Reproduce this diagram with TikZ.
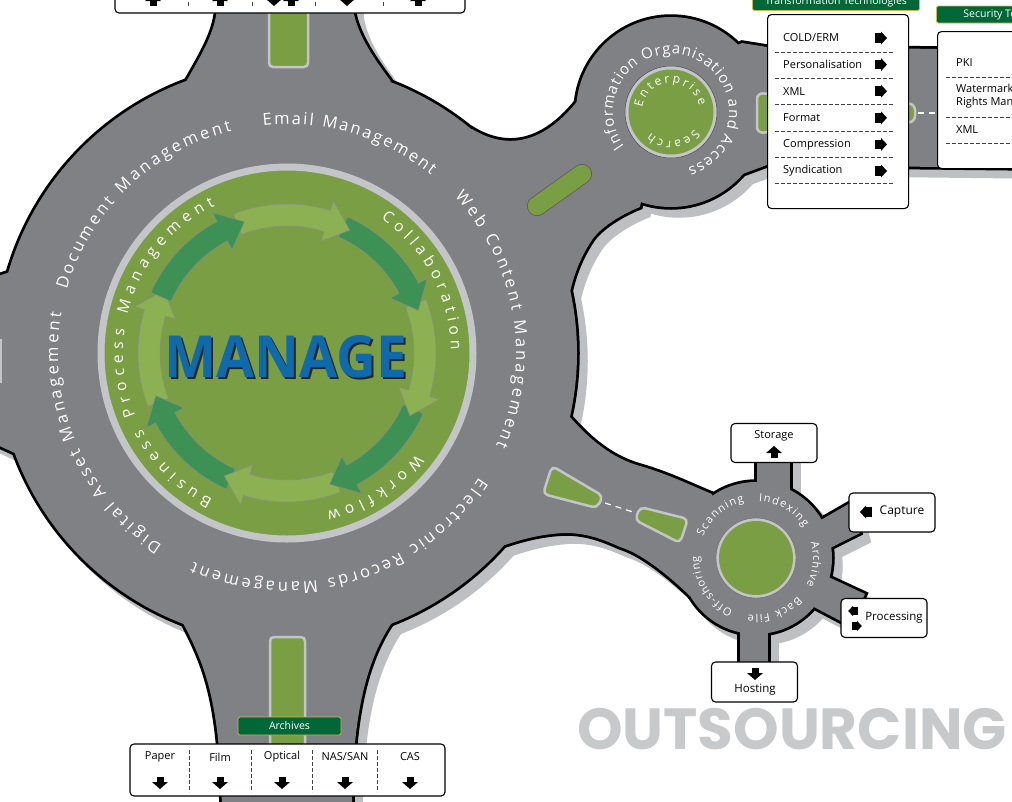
\documentclass[tikz,border=0pt]{standalone}
\usepackage{fontspec}
\setmainfont{Open Sans}
\newfontfamily\bannerfont{Poppins}
\usetikzlibrary{decorations.text}

\definecolor{road}{RGB}{128,129,133}
\definecolor{roadshadow}{RGB}{190,191,194}
\definecolor{rim}{RGB}{196,197,200}
\definecolor{grass}{RGB}{122,158,68}
\definecolor{arrowdark}{RGB}{62,145,84}
\definecolor{arrowlight}{RGB}{140,177,82}
\definecolor{tagfill}{RGB}{0,104,56}
\definecolor{tagline}{RGB}{205,185,70}
\definecolor{manageblue}{RGB}{14,106,172}
\definecolor{outsource}{RGB}{200,201,203}

\tikzset{
    outbox/.style={draw, line width=1.1pt, fill=white, rounded corners=4pt, inner sep=0pt},
    tag/.style={draw=tagline, line width=0.9pt, fill=tagfill, text=white, rounded corners=1.5pt, inner sep=0pt, font=\fontsize{10.5}{12}\selectfont},
    boxtext/.style={font=\fontsize{11}{13}\selectfont, inner sep=0pt},
    island/.style={fill=grass, draw=rim, line width=2.5pt},
    sep/.style={dash pattern=on 3.5pt off 2.5pt, line width=0.6pt, black!75},
    lanemark/.style={white, line width=1.2pt, dash pattern=on 6pt off 5pt},
    fatarrow/.pic={\fill (-5,-3.5) rectangle (0.5,3.5); \fill (0,-8) -- (7,0) -- (0,8) -- cycle;},
    slimarrow/.pic={\fill (-6,-4.8) rectangle (0.5,4.8); \fill (0,-6.5) -- (6,0) -- (0,6.5) -- cycle;},
}

% white lettering set along a clockwise arc
% #1 centre, #2 radius, #3 start angle, #4 end angle, #5 size, #6 text
\newcommand{\ringtext}[6]{%
    \path[decorate, decoration={text along path, text align={fit to path}, text color=white,
        text={|\fontsize{#5}{#5}\selectfont|#6}}]
        ([shift={(#3:#2)}]#1) arc[start angle=#3, end angle=#4, radius=#2];}

% all tarmac pieces, drawn with the style given
\newcommand{\roadnet}[1]{%
    \path[#1] (C0) circle[radius=290];
    \path[#1] (C1) circle[radius=95];
    \path[#1] (C2) circle[radius=76];
    % north and south arms
    \path[#1] (180,-110) -- (187,-80) .. controls (203,-52) and (215,-32) .. (217,-8) -- (217,20) -- (353,20) -- (353,-8) .. controls (356,-32) and (372,-56) .. (390,-80) -- (400,-110) -- cycle;
    \path[#1] (175,-600) -- (182,-621) .. controls (205,-665) and (220,-700) .. (222,-810) -- (352,-810) .. controls (352,-700) and (372,-652) .. (393,-621) -- (400,-600) -- cycle;
    % west arm
    \path[#1] (-20,-282) -- (10,-272) -- (30,-300) -- (30,-430) -- (17,-454) -- (-20,-437) -- cycle;
    % link up to the search roundabout
    \path[#1] (440,-180) -- (472,-129) .. controls (500,-146) and (540,-152) .. (582,-95) -- (650,-150) -- (640,-207) .. controls (620,-215) and (600,-228) .. (592,-240) .. controls (580,-258) and (574,-275) .. (570,-292) -- (460,-330) -- cycle;
    % arm to the security box
    \path[#1] (700,-60) -- (742,-43) -- (767,-47) -- (1030,-50) -- (1030,-168) -- (767,-165) -- (740,-175) -- (700,-165) -- cycle;
    % link down to the outsourcing roundabout
    \path[#1] (500,-450) -- (570,-417) .. controls (590,-440) and (612,-458) .. (640,-466) .. controls (668,-474) and (690,-485) .. (712,-494) -- (730,-560) -- (690,-596) .. controls (665,-572) and (640,-553) .. (620,-547) .. controls (600,-538) and (585,-533) .. (565,-533) .. controls (540,-534) and (520,-540) .. (505,-545) -- (470,-500) -- cycle;
    % spokes
    \path[#1] (757,-500) -- (757,-450) -- (790,-450) -- (790,-500) -- cycle;
    \path[#1] (812,-525) -- (852,-502) -- (860,-533) -- (828,-549) -- cycle;
    \path[#1] (822,-574) -- (865,-594) -- (850,-626) -- (812,-606) -- cycle;
    \path[#1] (740,-610) -- (740,-675) -- (768,-675) -- (768,-610) -- cycle;
}

\begin{document}
\begin{tikzpicture}[x=1pt, y=1pt]
    \useasboundingbox (0,0) rectangle (1012,-801);
    \clip (0,0) rectangle (1012,-801);

    % roundabout centres
    \coordinate (C0) at (287,-353);
    \coordinate (C1) at (671,-112);
    \coordinate (C2) at (756,-558);

    % === ROADS ===
    \begin{scope}[transform canvas={shift={(8,-8)}}]
        \roadnet{fill=roadshadow, draw=roadshadow, line width=5.5pt}
    \end{scope}
    \roadnet{fill=black, draw=black, line width=5.5pt}
    \roadnet{fill=road}

    % traffic islands
    \draw[island, rounded corners=4pt] (269,12) -- (269,-67) -- (308,-67) -- (308,12);
    \draw[island, rounded corners=4pt] (270,-760) -- (270,-637) -- (305,-637) -- (305,-760);
    \draw[island] (-10,-340) rectangle (1,-382);
    \draw[line width=20pt, line cap=round, black!65] (537,-206) -- (582,-174);
    \draw[line width=18.5pt, line cap=round, grass] (537,-206) -- (582,-174);
    \draw[island, rounded corners=5pt] (552,-466) -- (543,-494) -- (597,-508) -- (603,-496) -- cycle;
    \draw[island, rounded corners=5pt] (640,-507) -- (635,-520) -- (680,-543) -- (688,-519) -- cycle;
    \draw[lanemark] (605,-503) -- (633,-512);
    \draw[island, rounded corners=6pt] (757,-93) -- (915,-104) -- (915,-122) -- (757,-133) -- cycle;
    \draw[lanemark] (918,-113) -- (937,-113);

    % === MANAGE HUB ===
    \draw[fill=grass, draw=rim, line width=7pt] (C0) circle[radius=186];
    \foreach \k in {7,...,0} {
        \pgfmathsetmacro{\tip}{108-45*\k}
        \pgfmathsetmacro{\base}{\tip+10}
        \pgfmathsetmacro{\tail}{\tip+48}
        \ifodd\k \def\shade{arrowlight}\else \def\shade{arrowdark}\fi
        \filldraw[fill=\shade, draw=black!45, line width=0.5pt]
            ([shift={(\tail:127)}]C0) arc[start angle=\tail, end angle=\base, radius=127]
            -- ([shift={(\base:117)}]C0) -- ([shift={(\tip:138)}]C0) -- ([shift={(\base:159)}]C0)
            -- ([shift={(\base:149)}]C0) arc[start angle=\base, end angle=\tail, radius=149] -- cycle;
    }
    \node[font=\bfseries\fontsize{58}{58}\selectfont, text=black!85, xscale=0.95] (manageshade) at (288,-358.5) {MANAGE};
    \node[font=\bfseries\fontsize{58}{58}\selectfont, text=manageblue, xscale=0.95] (manage) at (286,-356.5) {MANAGE};

    \ringtext{C0}{164}{243}{116}{15.5}{Business Process Management}
    \ringtext{C0}{164}{55}{1}{15.5}{Collaboration}
    \ringtext{C0}{164}{-38}{-76}{15.5}{Workflow}

    \ringtext{C0}{229}{164}{104}{16.5}{Document Management}
    \ringtext{C0}{229}{96}{51}{16.5}{Email Management}
    \ringtext{C0}{229}{43}{-24}{16.5}{Web Content Management}
    \ringtext{C0}{229}{-33}{-114}{16.5}{Electronic Records Management}
    \ringtext{C0}{229}{-123}{-190}{16.5}{Digital Asset Management}

    % === SEARCH ROUNDABOUT ===
    \draw[fill=rim, draw=black!70, line width=0.5pt] (C1) circle[radius=46];
    \fill[grass] (C1) circle[radius=42.5];
    \ringtext{C1}{58}{216}{-73}{15}{Information Organisation and Access}
    \ringtext{C1}{29}{171}{13}{12}{Enterprise}
    \ringtext{C1}{29}{-36}{-134}{12}{Search}

    % === OUTSOURCING ROUNDABOUT ===
    \draw[fill=rim, draw=black!60, line width=0.4pt] (C2) circle[radius=40];
    \fill[grass] (C2) circle[radius=37];
    \ringtext{C2}{57}{158}{102}{11}{Scanning}
    \ringtext{C2}{57}{87}{33}{11}{Indexing}
    \ringtext{C2}{57}{16}{-28}{11}{Archive}
    \ringtext{C2}{57}{-43}{-98}{11}{Back File}
    \ringtext{C2}{57}{-114}{-182}{11}{Off-shoring}

    \node[outbox, minimum width=86pt, minimum height=39pt] (storage) at (774,-443) {};
    \node[boxtext] (storagetext) at (774,-436) {Storage};
    \pic[rotate=90] at (774,-453) {fatarrow};

    \node[outbox, minimum width=86pt, minimum height=39pt] (capture) at (892,-512.5) {};
    \pic[rotate=180] at (866,-512) {slimarrow};
    \node[boxtext, font=\fontsize{12}{14}\selectfont] (capturetext) at (902,-512) {Capture};

    \node[outbox, minimum width=86pt, minimum height=39pt] (processing) at (884,-618) {};
    \pic[rotate=180, scale=0.8] at (853,-611) {slimarrow};
    \pic[scale=0.8] at (857,-626) {slimarrow};
    \node[boxtext, font=\fontsize{11.5}{13}\selectfont] (processingtext) at (894,-618) {Processing};

    \node[outbox, minimum width=86pt, minimum height=40pt] (hosting) at (754.5,-682) {};
    \pic[rotate=-90] at (755,-673) {fatarrow};
    \node[boxtext, font=\fontsize{11.5}{13}\selectfont] (hostingtext) at (755,-690) {Hosting};

    % === TRANSFORMATION AND SECURITY ===
    \node[outbox, minimum width=141pt, minimum height=194pt, anchor=north west] (transform) at (767,-14) {};
    \foreach \t [count=\i] in {COLD/ERM, Personalisation, XML, Format, Compression, Syndication} {
        \node[boxtext, anchor=west] (trans\i) at (783,{-38-26.6*(\i-1)}) {\t};
        \pic at (881,{-38-26.6*(\i-1)}) {slimarrow};
        \draw[sep] (775,{-52.5-26.1*(\i-1)}) -- (893,{-52.5-26.1*(\i-1)});
    }
    \node[tag, minimum width=167pt, minimum height=18pt] (transtag) at (836,-1.5) {Transformation Technologies};

    \node[outbox, minimum width=130pt, minimum height=137pt, anchor=north west] (security) at (937,-31) {};
    \node[boxtext, anchor=west] (pki) at (956,-63) {PKI};
    \node[boxtext, anchor=west, align=left] (watermark) at (956,-96) {Watermarking\\Rights Management};
    \node[boxtext, anchor=west] (secxml) at (956,-130) {XML};
    \foreach \y in {77,117,143} {\draw[sep] (946,-\y) -- (1012,-\y);}
    \node[tag, minimum height=17pt, inner xsep=27pt, anchor=west] (sectag) at (936,-14.5) {Security Technologies};

    % === ARCHIVE MEDIA ===
    \node[outbox, minimum width=350pt, minimum height=60pt] (mediatop) at (290,17) {};
    \foreach \x in {188,252,315,383} {\draw[sep] (\x,40) -- (\x,-8);}
    \foreach \x in {153,220,291,418} {\pic[rotate=90] at (\x,-1) {fatarrow};}
    \foreach \x in {274,347} {\pic[rotate=-90] at (\x,1) {fatarrow};}

    \node[tag, minimum width=103pt, minimum height=18pt] (archivestag) at (289.5,-726) {Archives};
    \node[outbox, minimum width=315pt, minimum height=52pt] (media) at (287.5,-770) {};
    \foreach \m/\x in {Paper/160, Film/220, Optical/282, {NAS/SAN}/345, CAS/410} {
        \node[boxtext] at (\x,-757) {\m};
        \pic[rotate=-90] at (\x,-782) {fatarrow};
    }
    \foreach \x in {189,251,312,377} {\draw[sep] (\x,-750) -- (\x,-792);}

    \node[font=\bannerfont\bfseries\fontsize{58}{58}\selectfont, text=outsource] (banner) at (792,-729) {OUTSOURCING};
\end{tikzpicture}
\end{document}
